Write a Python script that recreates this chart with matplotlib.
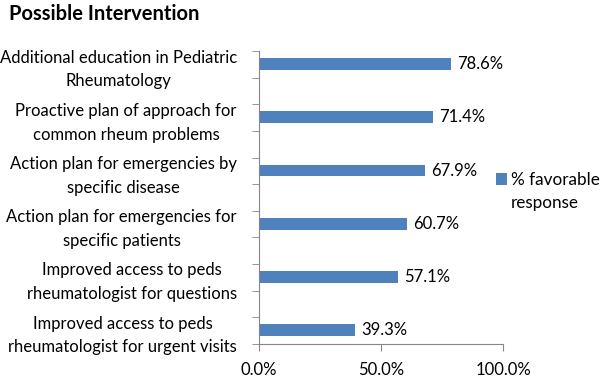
import matplotlib.pyplot as plt
import numpy as np
from matplotlib.ticker import FixedLocator

plt.rcParams["font.family"] = ["Lato", "DejaVu Sans"]

categories = [
    "Additional education in Pediatric\nRheumatology",
    "Proactive plan of approach for\ncommon rheum problems",
    "Action plan for emergencies by\nspecific disease",
    "Action plan for emergencies for\nspecific patients",
    "Improved access to peds\nrheumatologist for questions",
    "Improved access to peds\nrheumatologist for urgent visits",
]
favorable = [78.6, 71.4, 67.9, 60.7, 57.1, 39.3]
x_ticks = [0, 50, 100]
series_name = ["% favorable", "response"]

bar_color = "#4F81BD"
axis_color = "#868686"

fig = plt.figure(figsize=(6, 3.78), dpi=100)
ax = fig.add_axes([0.4317, 0.0899, 0.4067, 0.775])

y = np.arange(len(categories))
bars = ax.barh(y, favorable, height=0.22, color=bar_color)

for yi, v in zip(y, favorable):
    ax.text(v + 2.5, yi, f"{v:.1f}%", va="center", ha="left", fontsize=12)

y_lo, y_hi = -0.245, 5.26
ax.set_ylim(y_hi, y_lo)
ax.set_xlim(0, 100)

ax.set_yticks(y)
ax.set_yticklabels(categories, fontsize=12, multialignment="center", linespacing=1.6)
ax.tick_params(axis="y", which="major", length=0, pad=16)
ax.yaxis.set_minor_locator(FixedLocator(np.linspace(y_lo, y_hi, 12)))
ax.tick_params(axis="y", which="minor", length=5, color=axis_color, direction="out")

ax.set_xticks(x_ticks)
ax.set_xticklabels([f"{t:.1f}%" for t in x_ticks], fontsize=12)
ax.tick_params(axis="x", length=5, color=axis_color, pad=8)

for side in ["top", "right"]:
    ax.spines[side].set_visible(False)
for side in ["left", "bottom"]:
    ax.spines[side].set_color(axis_color)

fig.text(0.015, 0.962, "Possible Intervention", fontsize=14.5, fontweight="bold", va="center")

# legend: first line beside the marker, second line wrapped underneath
leg = fig.legend(
    handles=[bars],
    labels=[series_name[0]],
    loc="center left",
    bbox_to_anchor=(0.826, 0.524),
    frameon=False,
    fontsize=12.3,
    handlelength=0.68,
    handleheight=0.68,
    handletextpad=0.2,
    borderpad=0.0,
    borderaxespad=0.0,
)
fig.canvas.draw()
bb = leg.get_texts()[0].get_window_extent().transformed(fig.transFigure.inverted())
fig.text(bb.x0, bb.y0 + bb.height / 2 - 23 / 378, series_name[1], fontsize=12.3, va="center", ha="left")

fig.savefig("out.png", dpi=100)
